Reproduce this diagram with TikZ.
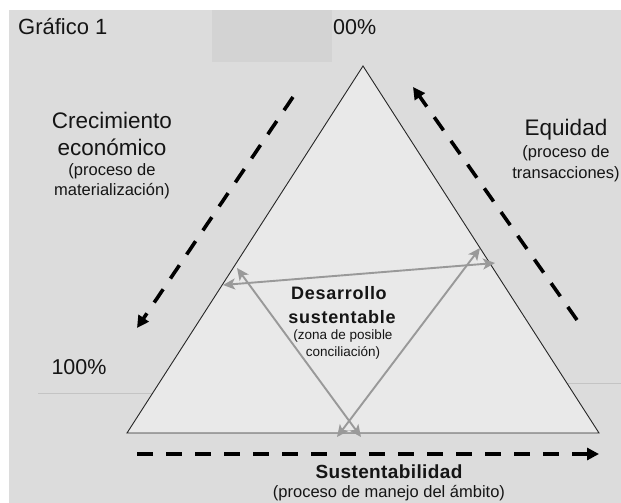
\documentclass[tikz,border=0pt]{standalone}
\usepackage{fontspec}
\setmainfont{Liberation Sans}
\usetikzlibrary{arrows.meta}
\definecolor{bggray}{HTML}{DCDCDC}
\definecolor{rectgray}{HTML}{D3D3D3}
\definecolor{trifill}{HTML}{E9E9E9}
\definecolor{linegray}{HTML}{C4C4C4}
\definecolor{arrgray}{HTML}{999999}
\definecolor{txt}{HTML}{151515}
\begin{document}
\begin{tikzpicture}[x=1pt,y=-1pt,
  lbl/.style={inner sep=0pt,text=txt,anchor=center},
  big/.style={lbl,font=\fontsize{22.5}{26}\selectfont},
  small/.style={lbl,font=\fontsize{16.5}{19}\selectfont},
  tiny/.style={lbl,font=\fontsize{13.5}{16}\selectfont},
  boldlbl/.style={lbl,font=\fontsize{18}{21}\selectfont\bfseries\addfontfeature{LetterSpace=4}},
  dasharrow/.style={line width=3.6pt,black,dash pattern=on 16pt off 13pt,-{Triangle[length=12pt,width=12pt]}},
  grayarrow/.style={line width=1.9pt,arrgray,{Stealth[length=12pt,width=11pt,inset=3pt]}-{Stealth[length=12pt,width=11pt,inset=3pt]}}
]
\useasboundingbox (0,0) rectangle (621,503);
\fill[white] (0,0) rectangle (621,503);
\fill[bggray] (9,10) rectangle (621,503);
\fill[rectgray] (212,10) rectangle (332,62);

% guide lines
\coordinate (ll1) at (38,393);
\coordinate (ll2) at (160,393);
\coordinate (rl1) at (560,383);
\coordinate (rl2) at (621,383);
\draw[linegray,line width=0.9pt] (ll1) -- (ll2);
\draw[linegray,line width=0.9pt] (rl1) -- (rl2);

% triangle
\coordinate (A) at (363,66);
\coordinate (B) at (127,433);
\coordinate (C) at (599,433);
\draw[fill=trifill,draw=black!85,line width=0.9pt,line join=miter] (A) -- (B) -- (C) -- cycle;

% inner gray double arrows
\coordinate (hl) at (223,285);
\coordinate (hr) at (495,263);
\coordinate (dl) at (237,268);
\coordinate (dr) at (480,248);
\coordinate (bl) at (337,437);
\coordinate (br) at (361,437);
\draw[grayarrow] (hl) -- (hr);
\draw[grayarrow] (dl) -- (br);
\draw[grayarrow] (dr) -- (bl);

% dashed arrows
\coordinate (l1) at (293,97);
\coordinate (l2) at (137,328);
\coordinate (r1) at (577,320);
\coordinate (r2) at (413,87);
\coordinate (b1) at (137,454);
\coordinate (b2) at (599,454);
\draw[dasharrow] (l1) -- (l2);
\draw[dasharrow] (r1) -- (r2);
\draw[dasharrow] (b1) -- (b2);

% texts
\node[lbl,anchor=base west,font=\fontsize{22}{26}\selectfont] (graf) at (18,35) {Gráfico 1};
\node[lbl,anchor=base west,font=\fontsize{21.5}{26}\selectfont] (top) at (333,35) {00\%};
\node[lbl,font=\fontsize{21.5}{26}\selectfont] (cien) at (79,367) {100\%};

\node[big] (cre1) at (112,120) {Crecimiento};
\node[big] (cre2) at (112,147) {económico};
\node[small] (cre3) at (112,171) {(proceso de};
\node[small] (cre4) at (112,191) {materialización)};

\node[big] (eq1) at (566,130) {Equidad};
\node[small] (eq2) at (566,153) {(proceso de};
\node[small] (eq3) at (566,174) {transacciones)};

\node[boldlbl] (ds1) at (339,293) {Desarrollo};
\node[boldlbl] (ds2) at (342,317) {sustentable};
\node[tiny] (ds3) at (343,336) {(zona de posible};
\node[tiny] (ds4) at (343,353) {conciliación)};

\node[boldlbl,font=\fontsize{19}{22}\selectfont\bfseries\addfontfeature{LetterSpace=2}] (su1) at (389,472) {Sustentabilidad};
\node[small] (su2) at (389,493) {(proceso de manejo del ámbito)};
\end{tikzpicture}
\end{document}
